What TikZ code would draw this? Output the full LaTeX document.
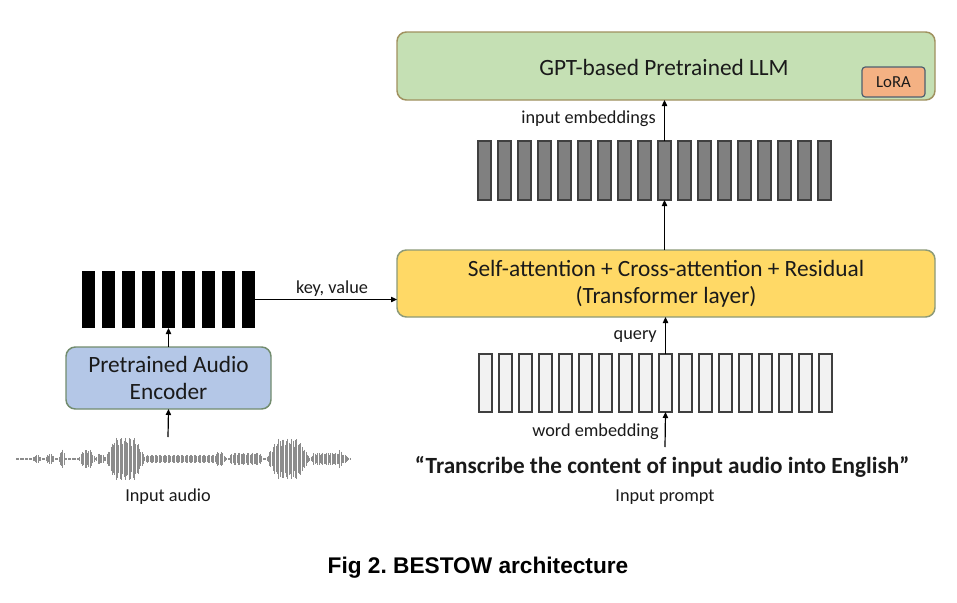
\documentclass[tikz,border=0pt]{standalone}
\usepackage{fontspec}
\setmainfont{Carlito}
\newfontfamily\capfont{Liberation Sans}
\usetikzlibrary{arrows.meta}
\definecolor{llmfill}{HTML}{C5E0B4}
\definecolor{llmdraw}{HTML}{A0915F}
\definecolor{yelfill}{HTML}{FFD966}
\definecolor{yeldraw}{HTML}{8C9A78}
\definecolor{bluefill}{HTML}{B4C7E7}
\definecolor{bluedraw}{HTML}{728C6E}
\definecolor{lorafill}{HTML}{F4B183}
\definecolor{loradraw}{HTML}{4F5F6F}
\definecolor{txt}{HTML}{1A1A1A}
\definecolor{wavecol}{HTML}{8C8C8C}
\tikzset{
  declare function={tr(\x,\c,\p,\s)=max(0,min(1,(\p+\s-abs(\x-\c))/\s));},
  bigbox/.style={draw, line width=1.1pt, rounded corners=7pt, inner sep=0pt, outer sep=0pt, text=txt, align=center, font=\fontsize{17.5}{20.3}\selectfont},
  graybar/.style={draw=black!75, fill=black!50, line width=0.8pt, minimum width=9.75pt, minimum height=44.25pt, inner sep=0pt, outer sep=0pt},
  whitebar/.style={draw=black!75, fill=black!5, line width=0.8pt, minimum width=9.75pt, minimum height=43.5pt, inner sep=0pt, outer sep=0pt},
  blackbar/.style={fill=black, draw=none, minimum width=9.75pt, minimum height=42.75pt, inner sep=0pt, outer sep=0pt},
  lbl/.style={text=txt, font=\fontsize{13.7}{16}\selectfont, inner sep=0pt},
  arr/.style={-{Triangle[length=4.5pt,width=4pt]}, line width=0.9pt, black},
  wave/.style={wavecol, line width=0.55pt}
}
\begin{document}
\begin{tikzpicture}[x=0.75pt,y=-0.75pt]
\useasboundingbox[fill=white] (0,0) rectangle (957,603);
% LLM box
\node[bigbox, fill=llmfill, draw=llmdraw, minimum width=403.5pt, minimum height=51pt] (llm) at (666,66) {};
\node[text=txt, font=\fontsize{17.5}{20}\selectfont] (llmtxt) at (664,67) {GPT-based Pretrained LLM};
\node[draw=loradraw, fill=lorafill, line width=0.9pt, rounded corners=2.5pt, minimum width=47.25pt, minimum height=22.5pt, inner sep=0pt, text=txt, font=\fontsize{12.6}{14}\selectfont] (lora) at (893.5,82) {LoRA};
% gray bars
\foreach \i in {1,...,18} {
  \node[graybar] (g\i) at ({484.5+(\i-1)*20},170.5) {};
}
% transformer layer
\node[bigbox, fill=yelfill, draw=yeldraw, minimum width=403.5pt, minimum height=50.25pt] (tl) at (666,283.5) {Self-attention + Cross-attention + Residual\\(Transformer layer)};
% white bars
\foreach \i in {1,...,18} {
  \node[whitebar] (w\i) at ({485.5+(\i-1)*20},383) {};
}
% black bars
\foreach \i in {1,...,9} {
  \node[blackbar] (b\i) at ({88.5+(\i-1)*20},299.5) {};
}
% encoder
\node[bigbox, fill=bluefill, draw=bluedraw, minimum width=153.75pt, minimum height=46.5pt] (enc) at (168.5,378) {Pretrained Audio\\Encoder};
% waveform
\foreach \i in {16,17.3,...,351} {
  \pgfmathsetmacro\env{1.2 + 3*tr(\i,37,1,4) + 4*tr(\i,50,2,3) + 10*tr(\i,62,0.5,3) + 8*tr(\i,87,4,4) + 4*tr(\i,100,2,3) + 20*tr(\i,125,10,10) + 3*tr(\i,180,33,5) + 6*tr(\i,220,2,4) + 5*tr(\i,246,14,3) + 19*tr(\i,288,10,12) + 5*tr(\i,327,13,4) + 3*tr(\i,343,3,3)}
  \pgfmathsetmacro\a{\env*(0.6+0.4*abs(sin(\i*41)))}
  \draw[wave] (\i,{459-\a}) -- (\i,{459+\a});
}
\coordinate (wavetop) at (168,437);
\coordinate (promptbot) at (665,447);
% texts
\node[text=txt, font=\bfseries\fontsize{17.4}{20}\selectfont] (prompt) at (662,467) {“Transcribe the content of input audio into English”};
\node[lbl] (promptlbl) at (665,497) {Input prompt};
\node[lbl] (audiolbl) at (168,497) {Input audio};
\node[lbl, anchor=east] (wordemb) at (659,432) {word embedding};
\node[lbl, anchor=east] (query) at (657,337) {query};
\node[lbl, anchor=east] (inemb) at (656,119) {input embeddings};
\node[lbl] (kv) at (332,289) {key, value};
\node[font=\capfont\bfseries\fontsize{17}{20}\selectfont] (cap) at (478,568) {\frenchspacing Fig 2. BESTOW architecture};
% arrows
\draw[arr] (wavetop) -- (enc.south);
\draw[arr] (enc.north) -- (b5.south);
\draw[arr] (b9.east) -- (b9.east -| tl.west);
\draw[arr] (promptbot) -- (w10.south);
\draw[arr] (w10.north) -- (w10.north |- tl.south);
\draw[arr] (g10.south |- tl.north) -- (g10.south);
\draw[arr] (g10.north) -- (g10.north |- llm.south);
\end{tikzpicture}
\end{document}
